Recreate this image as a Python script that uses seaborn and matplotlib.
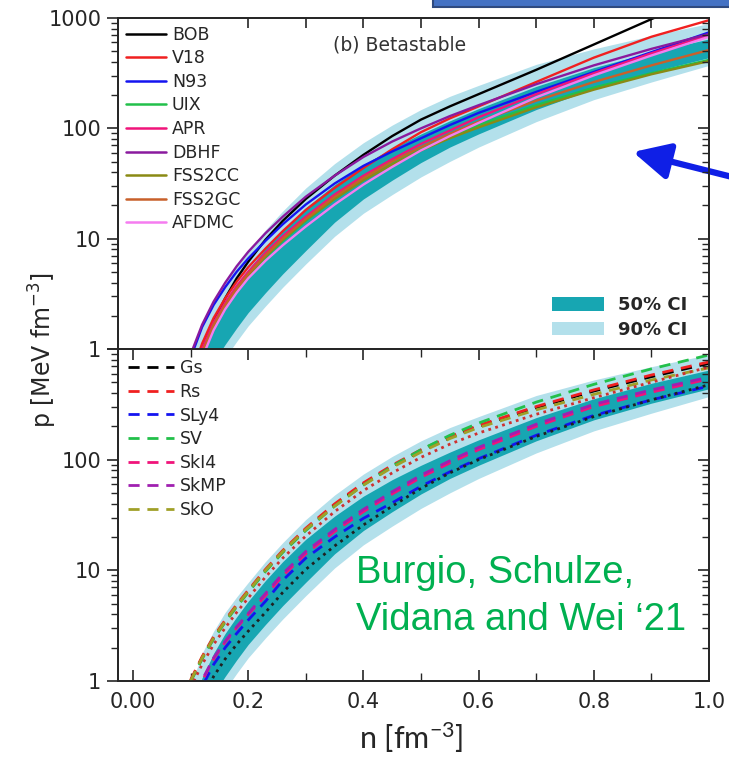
import numpy as np
import pandas as pd
import matplotlib
matplotlib.use('Agg')
import matplotlib.pyplot as plt
import seaborn as sns
from matplotlib.ticker import FixedLocator, FixedFormatter, LogLocator, NullFormatter
from matplotlib.patches import Rectangle, Patch
from matplotlib.lines import Line2D

# ---------------- data ----------------
n_grid = [0.10, 0.12, 0.14, 0.16, 0.18, 0.20, 0.23, 0.26, 0.30, 0.35,
          0.40, 0.45, 0.50, 0.55, 0.60, 0.70, 0.80, 0.90, 1.00]

ci90_hi = [0.89, 1.78, 2.82, 4.17, 5.75, 7.76, 12.0, 17.8, 28.8, 47.9,
           74.1, 107, 148, 195, 245, 380, 525, 692, 891]
ci50_hi = [0.56, 1.07, 1.78, 2.69, 3.8, 5.25, 8.1, 12.0, 19.1, 30.9,
           46.8, 66, 89, 117, 151, 240, 355, 490, 646]
ci50_lo = [0.28, 0.47, 0.76, 1.10, 1.55, 2.14, 3.24, 4.8, 7.8, 14.1,
           22.9, 33.9, 49, 67.6, 89, 148, 229, 324, 437]
ci90_lo = [0.21, 0.35, 0.58, 0.83, 1.17, 1.62, 2.45, 3.63, 5.9, 10.5,
           17.0, 25.1, 36.3, 50.1, 67.6, 115, 182, 263, 372]

micro_names = ["BOB", "V18", "N93", "UIX", "APR", "DBHF", "FSS2CC", "FSS2GC", "AFDMC"]
p_BOB = [0.50, 1.00, 1.78, 2.88, 4.37, 6.17, 9.77, 14.5, 22.9, 37.2,
         57.5, 85.1, 120, 158, 204, 339, 575, 977, 1622]
p_V18 = [0.56, 1.12, 1.91, 2.88, 4.07, 5.50, 8.13, 11.7, 18.2, 28.8,
         43.7, 64.6, 92.3, 123, 158, 263, 437, 676, 955]
p_N93 = [0.83, 1.58, 2.51, 3.63, 5.01, 6.61, 9.55, 13.5, 20.4, 31.6,
         45.7, 61.7, 81.3, 107, 138, 214, 324, 490, 741]
p_UIX = [0.42, 0.89, 1.58, 2.40, 3.39, 4.57, 6.76, 9.55, 14.5, 22.9,
         33.9, 47.9, 64.6, 85.1, 107, 162, 234, 316, 417]
p_APR = [0.50, 1.00, 1.74, 2.63, 3.72, 5.01, 7.41, 10.5, 15.8, 25.1,
         37.2, 52.5, 72.4, 95.5, 126, 204, 316, 479, 700]
p_DBHF = [0.89, 1.66, 2.69, 3.98, 5.62, 7.59, 11.2, 15.8, 24.0, 37.2,
          55.0, 75.9, 100, 129, 162, 251, 372, 525, 716]
p_FSS2CC = [0.44, 0.91, 1.62, 2.45, 3.47, 4.68, 6.92, 9.77, 14.8, 22.9,
            33.9, 46.8, 63.1, 81.3, 102, 155, 224, 309, 407]
p_FSS2GC = [0.45, 0.93, 1.66, 2.51, 3.55, 4.79, 7.08, 10.0, 15.1, 24.0,
            35.5, 50.1, 67.6, 89.1, 115, 178, 263, 372, 513]
p_AFDMC = [0.40, 0.83, 1.48, 2.29, 3.24, 4.37, 6.31, 8.71, 12.9, 20.4,
           30.9, 44.7, 63.1, 85.1, 112, 191, 302, 457, 676]

skyrme_names = ["Gs", "Rs", "SLy4", "SV", "SkI4", "SkMP", "SkO"]
p_Gs = [1.0, 1.62, 2.45, 3.47, 4.79, 6.46, 10.0, 14.8, 23.4, 38.9,
        60.3, 87.1, 120, 158, 200, 295, 417, 562, 741]
p_Rs = [1.02, 1.66, 2.51, 3.55, 4.90, 6.61, 10.2, 15.1, 24.0, 39.8,
        61.7, 89.1, 123, 162, 204, 302, 427, 582, 764]
p_SLy4 = [0.47, 0.89, 1.41, 2.0, 2.69, 3.55, 5.25, 8.13, 12.9, 20.0,
          29.5, 40.7, 57.5, 77.6, 102, 166, 251, 347, 462]
p_SV = [0.98, 1.58, 2.40, 3.39, 4.68, 6.31, 9.77, 14.5, 22.9, 38.0,
        58.9, 87.1, 123, 166, 214, 331, 479, 661, 883]
p_SkI4 = [0.52, 1.0, 1.58, 2.24, 3.02, 3.98, 5.89, 8.91, 14.1, 22.4,
          33.9, 49.0, 69.2, 93.3, 123, 200, 302, 407, 537]
p_SkMP = [0.54, 1.02, 1.62, 2.29, 3.09, 4.07, 6.17, 9.33, 14.8, 23.4,
          35.5, 51.3, 72.4, 97.7, 129, 209, 316, 427, 557]
p_SkO = [1.0, 1.62, 2.45, 3.47, 4.79, 6.46, 10.0, 14.8, 23.4, 38.0,
         58.9, 85.1, 117, 155, 195, 282, 389, 525, 676]
# extra unlabelled dotted curves in the lower panel
p_dot_red = [0.87, 1.41, 2.14, 3.02, 4.17, 5.62, 8.71, 12.9, 20.4, 33.9,
             52.5, 75.9, 105, 138, 174, 257, 363, 501, 687]
p_dot_black = [0.35, 0.68, 1.10, 1.58, 2.14, 2.82, 4.17, 6.31, 10.2, 16.6,
               25.7, 38.0, 55.0, 75.9, 100, 162, 245, 347, 475]

x_ticks = [0.0, 0.2, 0.4, 0.6, 0.8, 1.0]
x_ticklabels = ["0.00", "0.2", "0.4", "0.6", "0.8", "1.0"]
y_ticks = [1, 10, 100, 1000]

# ---------------- style ----------------
sns.set_style("ticks")
plt.rcParams['font.family'] = ['DejaVu Sans']
plt.rcParams['mathtext.fontset'] = 'dejavusans'
plt.rcParams['mathtext.rm'] = 'Lato'
plt.rcParams['mathtext.it'] = 'Lato:italic'
plt.rcParams['mathtext.bf'] = 'Lato:bold'
plt.rcParams['mathtext.sf'] = 'Lato'

micro_colors = {"BOB": "#000000", "V18": "#F02020", "N93": "#1414F0", "UIX": "#22C04A",
                "APR": "#F0147A", "DBHF": "#8A1A9E", "FSS2CC": "#8A8A14", "FSS2GC": "#C8602A",
                "AFDMC": "#F57CF0"}
skyrme_colors = {"Gs": "#000000", "Rs": "#F02020", "SLy4": "#1414F0", "SV": "#22C04A",
                 "SkI4": "#F0147A", "SkMP": "#A020B0", "SkO": "#A0A028",
                 "dot_red": "#D03030", "dot_black": "#202020"}
teal = "#17A6B2"
light = "#B3E0EB"

micro_vals = [p_BOB, p_V18, p_N93, p_UIX, p_APR, p_DBHF, p_FSS2CC, p_FSS2GC, p_AFDMC]
df_micro = pd.DataFrame([(n, p, name) for name, vals in zip(micro_names, micro_vals)
                         for n, p in zip(n_grid, vals)], columns=["n", "p", "eos"])
sky_all = skyrme_names + ["dot_red", "dot_black"]
sky_vals = [p_Gs, p_Rs, p_SLy4, p_SV, p_SkI4, p_SkMP, p_SkO, p_dot_red, p_dot_black]
df_sky = pd.DataFrame([(n, p, name) for name, vals in zip(sky_all, sky_vals)
                       for n, p in zip(n_grid, vals)], columns=["n", "p", "eos"])
sky_dashes = {k: (4, 2.8) for k in skyrme_names}
sky_dashes["dot_red"] = (1, 1.6)
sky_dashes["dot_black"] = (1, 1.6)

W, H = 729, 760
fig = plt.figure(figsize=(W / 100, H / 100), dpi=100)
L, R = 118 / W, 709 / W
ax_top = fig.add_axes([L, 1 - 349 / H, R - L, (349 - 18) / H])
ax_bot = fig.add_axes([L, 1 - 681 / H, R - L, (681 - 349) / H])

for ax in (ax_top, ax_bot):
    ax.fill_between(n_grid, ci90_lo, ci90_hi, color=light, lw=0, zorder=1)
    ax.fill_between(n_grid, ci50_lo, ci50_hi, color=teal, lw=0, zorder=2)

sns.lineplot(data=df_micro, x="n", y="p", hue="eos", palette=micro_colors, ax=ax_top,
             legend=False, estimator=None, sort=False, lw=1.7, zorder=3)
sns.lineplot(data=df_sky, x="n", y="p", hue="eos", style="eos", palette=skyrme_colors,
             dashes=sky_dashes, ax=ax_bot, legend=False, estimator=None, sort=False,
             lw=2.0, zorder=3)

for i, ax in enumerate((ax_top, ax_bot)):
    ax.set_yscale("log")
    ax.set_xlim(-0.026, 1.0)
    ax.set_ylim(1, 1000)
    ax.set_xlabel("")
    ax.set_ylabel("")
    ax.yaxis.set_major_locator(FixedLocator(y_ticks))
    labs = ["1", "10", "100", "1000"] if i == 0 else ["1", "10", "100", ""]
    ax.yaxis.set_major_formatter(FixedFormatter(labs))
    ax.yaxis.set_minor_locator(LogLocator(base=10, subs=range(2, 10)))
    ax.yaxis.set_minor_formatter(NullFormatter())
    ax.tick_params(axis="y", which="major", direction="out", length=8, width=1.2,
                   labelsize=15, pad=4, left=True, right=False)
    ax.tick_params(axis="y", which="minor", direction="out", length=5, width=1.0,
                   left=True, right=False)
    for s in ax.spines.values():
        s.set_linewidth(1.3)
        s.set_visible(True)
    ax2 = ax.twinx()
    ax2.set_yscale("log")
    ax2.set_ylim(1, 1000)
    ax2.yaxis.set_major_locator(FixedLocator(y_ticks))
    ax2.yaxis.set_minor_locator(LogLocator(base=10, subs=range(2, 10)))
    ax2.yaxis.set_minor_formatter(NullFormatter())
    ax2.tick_params(axis="y", which="major", direction="in", length=8, width=1.2,
                    labelright=False)
    ax2.tick_params(axis="y", which="minor", direction="in", length=5, width=1.0)
    for s in ax2.spines.values():
        s.set_linewidth(1.3)

# top panel x ticks: only on top
ax_top.xaxis.set_major_locator(FixedLocator([0.2, 0.3, 0.4, 0.5, 0.6, 0.7, 0.8, 0.9]))
ax_top.tick_params(axis="x", which="both", direction="in", length=7, width=1.2,
                   top=True, bottom=False, labelbottom=False, labeltop=False)
ax_top.xaxis.set_minor_locator(FixedLocator([]))

ax_bot.xaxis.set_major_locator(FixedLocator(x_ticks))
ax_bot.xaxis.set_major_formatter(FixedFormatter(x_ticklabels))
ax_bot.xaxis.set_minor_locator(FixedLocator([0.1, 0.3, 0.5, 0.7, 0.9]))
ax_bot.tick_params(axis="x", which="major", direction="in", length=8, width=1.2,
                   top=True, bottom=True, labelsize=15, pad=8)
ax_bot.tick_params(axis="x", which="minor", direction="in", length=6, width=1.0,
                   top=True, bottom=True)

# legends
h_micro = [Line2D([], [], color=micro_colors[k], lw=1.8) for k in micro_names]
leg1 = ax_top.legend(h_micro, micro_names, loc="upper left", frameon=False,
                     fontsize=12.5, handlelength=2.3, handletextpad=0.35,
                     labelspacing=0.32, borderaxespad=0.15, borderpad=0.3)
h_ci = [Patch(facecolor=teal, edgecolor="none"), Patch(facecolor=light, edgecolor="none")]
leg2 = ax_top.legend(h_ci, ["50% CI", "90% CI"], loc="lower right",
                     bbox_to_anchor=(0.963, 0.03), frameon=False,
                     prop=dict(size=13, weight="bold"), handlelength=2.9, handleheight=0.75,
                     handletextpad=0.75, labelspacing=0.38, borderaxespad=0.0, borderpad=0.0)
ax_top.add_artist(leg1)

h_sky = [Line2D([], [], color=skyrme_colors[k], lw=2.0, dashes=(4, 2.8)) for k in skyrme_names]
ax_bot.legend(h_sky, skyrme_names, loc="upper left", frameon=False, fontsize=12.5,
              handlelength=2.6, handletextpad=0.35, labelspacing=0.32,
              borderaxespad=0.3, borderpad=0.3)

# annotations
fig.text(333 / W, 1 - 45 / H, "(b) Betastable", fontsize=13.5, color="#333333",
         ha="left", va="center")
fig.text(43 / W, 1 - 350 / H, "p [MeV fm$^{-3}$]", rotation=90, fontsize=17,
         ha="center", va="center")
fig.text(411 / W, 1 - 738 / H, "n [fm$^{-3}$]", fontsize=22, family="Lato",
         math_fontfamily="custom", ha="center", va="center")
fig.text(356 / W, 1 - 583 / H, "Burgio, Schulze,", fontsize=27.5, color="#00B050",
         family="Liberation Sans", ha="left", va="baseline")
fig.text(356 / W, 1 - 630 / H, "Vidana and Wei \u201821", fontsize=27.5, color="#00B050",
         family="Liberation Sans", ha="left", va="baseline")

fig.add_artist(Rectangle((433 / W, 1 - 7 / H), 0.5, 0.1, transform=fig.transFigure,
                         facecolor="#4472C4", edgecolor="#2F4A7F", lw=1.5, clip_on=False))
ax_top.annotate("", xy=(633, H - 152), xytext=(760, H - 184), xycoords="figure pixels",
                textcoords="figure pixels", annotation_clip=False,
                arrowprops=dict(arrowstyle="-|>,head_length=1.1,head_width=0.55",
                                lw=4.5, color="#0F1FE6", mutation_scale=20,
                                shrinkA=0, shrinkB=0))

fig.savefig("out.png", dpi=100)
